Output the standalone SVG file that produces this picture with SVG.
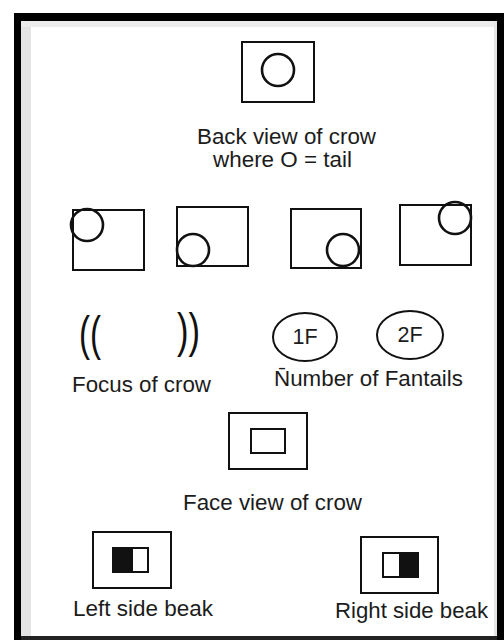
<svg xmlns="http://www.w3.org/2000/svg" width="504" height="640" viewBox="0 0 504 640">
<style>
.box{fill:#fff;stroke:#111;stroke-width:2}
.tail{fill:none;stroke:#111;stroke-width:2.6}
.lbl{font-family:"Liberation Sans",Arial,sans-serif;font-size:21.5px;fill:#1c1c1c}
.par{font-family:"Liberation Sans",Arial,sans-serif;font-size:48px;fill:#111}
.fan{fill:#fff;stroke:#111;stroke-width:2}
</style>
<rect width="504" height="640" fill="#fff"/>
<g id="frame">
<rect x="14" y="13" width="490" height="8" fill="#000"/>
<rect x="14" y="13" width="7" height="627" fill="#000"/>
<rect x="497" y="13" width="7" height="627" fill="#000"/>
<rect x="21" y="636" width="476" height="4" fill="#222"/>
<rect x="21" y="21" width="10" height="615" fill="#e4e4e4"/>
<rect x="21" y="21" width="476" height="6" fill="#ececec"/>
<rect x="494" y="21" width="3" height="615" fill="#e6e6e6"/>
</g>
<g id="back-view">
<rect class="box" x="242" y="42" width="72" height="60"/>
<circle class="tail" cx="278" cy="70" r="16"/>
<text class="lbl" x="197" y="144" textLength="179" lengthAdjust="spacingAndGlyphs">Back view of crow</text>
<text class="lbl" x="213" y="167" textLength="139" lengthAdjust="spacingAndGlyphs">where O = tail</text>
</g>
<g id="tail-top-left">
<rect class="box" x="73" y="210" width="71" height="60"/>
<circle class="tail" cx="87" cy="225" r="16"/>
</g>
<g id="tail-bottom-left">
<rect class="box" x="177" y="207" width="71" height="59"/>
<circle class="tail" cx="193" cy="250" r="16"/>
</g>
<g id="tail-bottom-right">
<rect class="box" x="291" y="209" width="70" height="59"/>
<circle class="tail" cx="343" cy="250" r="16"/>
</g>
<g id="tail-top-right">
<rect class="box" x="400" y="205" width="71" height="60"/>
<circle class="tail" cx="455" cy="218" r="16"/>
</g>
<g id="focus">
<text class="par" x="79" y="350" textLength="22" lengthAdjust="spacingAndGlyphs">((</text>
<text class="par" x="177" y="347" textLength="23" lengthAdjust="spacingAndGlyphs">))</text>
<text class="lbl" x="72" y="392" textLength="139" lengthAdjust="spacingAndGlyphs">Focus of crow</text>
</g>
<g id="fantails">
<ellipse class="fan" cx="305" cy="337" rx="32" ry="24"/>
<text class="lbl" x="305" y="344" text-anchor="middle">1F</text>
<ellipse class="fan" cx="410" cy="335" rx="33" ry="24"/>
<text class="lbl" x="410" y="342" text-anchor="middle">2F</text>
<text class="lbl" x="274" y="386" textLength="189" lengthAdjust="spacingAndGlyphs">N̄umber of Fantails</text>
</g>
<g id="face-view">
<rect class="box" x="229" y="413" width="78" height="56"/>
<rect class="box" x="251" y="429" width="34" height="24"/>
<text class="lbl" x="183" y="510" textLength="179" lengthAdjust="spacingAndGlyphs">Face view of crow</text>
</g>
<g id="left-beak">
<rect class="box" x="93" y="532" width="78" height="56"/>
<rect class="box" x="113" y="548" width="35" height="24"/>
<rect x="113" y="548" width="20" height="24" fill="#111"/>
<text class="lbl" x="73" y="616" textLength="140" lengthAdjust="spacingAndGlyphs">Left side beak</text>
</g>
<g id="right-beak">
<rect class="box" x="361" y="537" width="77" height="56"/>
<rect class="box" x="383" y="553" width="35" height="24"/>
<rect x="399" y="553" width="19" height="24" fill="#111"/>
<text class="lbl" x="335" y="618" textLength="153" lengthAdjust="spacingAndGlyphs">Right side beak</text>
</g>
</svg>
